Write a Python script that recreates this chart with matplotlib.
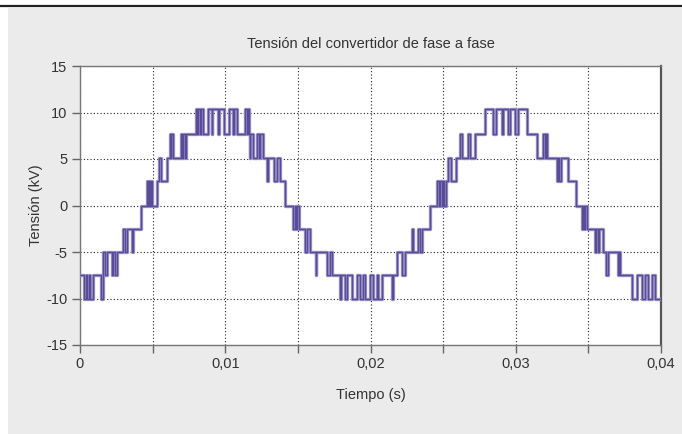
import matplotlib
matplotlib.use("Agg")
import matplotlib.pyplot as plt
import numpy as np

# Switching instants (ms) and output level (kV) that starts at each instant
cycle1_ms = [0.00, 0.28, 0.41, 0.50, 0.64, 0.69, 0.92, 1.42, 1.56, 1.70, 1.88, 2.20, 2.29, 2.39,
             2.57, 2.94, 3.10, 3.21, 3.56, 3.67, 4.17, 4.59, 4.66, 4.75, 4.80, 4.87, 4.93, 5.28,
             5.46, 5.55, 5.96, 6.19, 6.24, 6.28, 6.38, 6.93, 7.05, 7.10, 7.20, 7.30, 7.99, 8.08,
             8.15, 8.26, 8.33, 8.49, 8.83, 9.06, 9.12, 9.52, 9.60, 9.91, 10.28, 10.52, 10.60,
             10.83, 11.36, 11.50, 11.58, 11.65, 11.68, 11.71, 11.94, 12.17, 12.30, 12.40, 12.63,
             12.85, 12.97, 13.35, 13.55, 13.77, 14.11, 14.69, 14.78, 14.88, 14.95, 15.05, 15.50,
             15.60, 15.83, 16.25, 16.28, 16.98, 17.21, 17.33, 17.90, 18.00, 18.24, 18.36, 18.70,
             19.05, 19.28, 19.50, 19.62, 19.97]
cycle1_kv = [-7.5, -10, -7.5, -10, -7.5, -10, -7.5, -10, -5, -7.5, -5, -7.5, -5, -7.5,
             -5, -2.5, -5, -2.5, -5, -2.5, 0, 2.6, 0, 2.6, 0, 2.6, 0, 2.6,
             5.1, 2.6, 5.1, 7.7, 5.1, 7.7, 5.1, 7.7, 5.1, 7.7, 5.1, 7.7, 10.4, 7.7,
             10.4, 7.7, 10.4, 7.7, 10.4, 7.7, 10.4, 7.7, 10.4, 7.7, 10.4, 7.7, 10.4,
             7.7, 10.4, 7.7, 10.4, 7.7, 5.1, 7.7, 5.1, 7.7, 5.1, 7.7, 5.1,
             2.6, 5.1, 2.6, 5.1, 2.6, 0, -2.5, 0, -2.5, 0, -2.5, -5,
             -2.5, -5, -7.5, -5, -7.5, -5, -7.5, -10, -7.5, -10, -7.5, -10,
             -7.5, -10, -7.5, -10, -7.5]

cycle2_ms = [20.20, 20.43, 20.54, 20.77, 21.46, 21.57, 21.80, 22.15, 22.38, 22.84, 22.95, 23.30,
             23.40, 23.52, 24.10, 24.60, 24.70, 24.80, 24.90, 25.00, 25.08, 25.20, 25.36, 25.52,
             25.89, 26.16, 26.27, 26.73, 26.85, 27.19, 27.88, 28.46, 28.64, 29.03, 29.15, 29.49,
             29.60, 29.95, 30.18, 30.75, 31.44, 31.90, 31.98, 32.05, 32.13, 32.82, 32.90, 33.00,
             33.10, 33.62, 34.15, 34.54, 34.62, 34.72, 34.80, 34.90, 35.45, 35.52, 35.65, 35.72,
             35.98, 36.21, 36.37, 37.05, 37.10, 37.17, 37.98, 38.32, 38.66, 38.89, 39.12, 39.35,
             39.58, 40.00]
cycle2_kv = [-10, -7.5, -10, -7.5, -10, -7.5, -5, -7.5, -5, -2.5, -5, -2.5,
             -5, -2.5, 0, 2.6, 0, 2.6, 0, 2.6, 0, 2.6, 5.1, 2.6,
             5.1, 7.7, 5.1, 7.7, 5.1, 7.7, 10.4, 7.7, 10.4, 7.7, 10.4, 7.7,
             10.4, 7.7, 10.4, 7.7, 5.1, 7.7, 5.1, 7.7, 5.1, 2.6, 5.1, 2.6,
             5.1, 2.6, 0, -2.5, 0, -2.5, 0, -2.5, -5, -2.5, -5, -2.5,
             -5, -7.5, -5, -7.5, -5, -7.5, -10, -7.5, -10, -7.5, -10, -7.5,
             -10, -10]

x_ticks = [0, 0.01, 0.02, 0.03, 0.04]
x_ticklabels = ["0", "0,01", "0,02", "0,03", "0,04"]
y_ticks = [-15, -10, -5, 0, 5, 10, 15]
y_ticklabels = ["-15", "-10", "-5", "0", "5", "10", "15"]

plt.rcParams["font.family"] = ["Liberation Sans", "DejaVu Sans"]

t = np.array(cycle1_ms + cycle2_ms) / 1000.0
v = np.array(cycle1_kv + cycle2_kv)

fig = plt.figure(figsize=(6.82, 4.34), dpi=100)
fig.patch.set_facecolor("white")

# grey panel and the rule above it
fig.add_artist(plt.Rectangle((8 / 682, 0), 1, 1 - 8 / 434, transform=fig.transFigure,
                             facecolor="#ebebeb", edgecolor="none", zorder=-10))
fig.add_artist(plt.Line2D([0, 1], [1 - 5.5 / 434] * 2, transform=fig.transFigure,
                          color="#222222", linewidth=1.6))

ax = fig.add_axes([80 / 682, 1 - 345 / 434, (661 - 80) / 682, (345 - 66) / 434])
ax.set_facecolor("white")

ax.plot(t, v, drawstyle="steps-post", color="#9d95c8", linewidth=2.4, zorder=3)
ax.plot(t, v, drawstyle="steps-post", color="#5a4b98", linewidth=1.0, zorder=4)

ax.set_xlim(0, 0.04)
ax.set_ylim(-15, 15)
ax.set_xticks(x_ticks)
ax.set_xticklabels(x_ticklabels)
ax.set_xticks([0.005, 0.015, 0.025, 0.035], minor=True)
ax.set_yticks(y_ticks)
ax.set_yticklabels(y_ticklabels)

ax.grid(True, which="both", linestyle=(0, (1, 2)), color="#222222", linewidth=0.8)
ax.tick_params(which="both", direction="out", length=6, width=1, color="#666666",
               labelsize=10.5, labelcolor="#333333", pad=3)

for side in ["left", "bottom", "top"]:
    ax.spines[side].set_color("#777777")
    ax.spines[side].set_linewidth(1.0)
ax.spines["right"].set_color("#555555")
ax.spines["right"].set_linewidth(1.6)

ax.set_title("Tensión del convertidor de fase a fase", fontsize=10.5, color="#333333", pad=13)
ax.set_xlabel("Tiempo (s)", fontsize=10.5, color="#333333", labelpad=12)
ax.set_ylabel("Tensión (kV)", fontsize=10.5, color="#333333", labelpad=2)

fig.savefig("out.png", dpi=100)
